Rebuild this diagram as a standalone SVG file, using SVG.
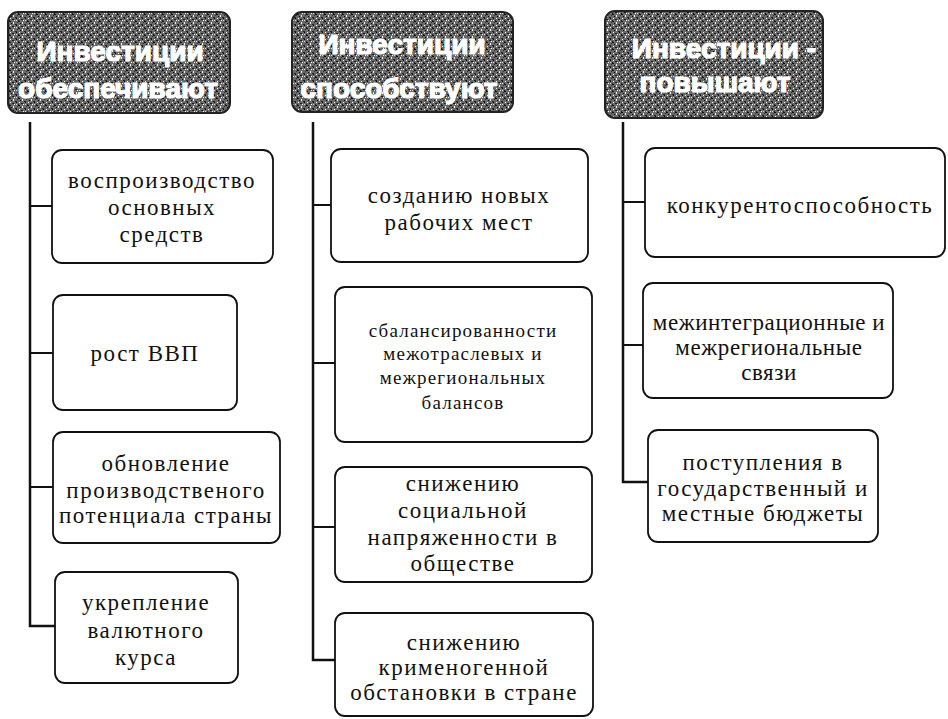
<svg xmlns="http://www.w3.org/2000/svg" width="948" height="719" viewBox="0 0 948 719">
<defs>
<pattern id="noise" width="9" height="7" patternUnits="userSpaceOnUse">
<rect width="9" height="7" fill="#6a6a6a"/>
<rect x="0" y="0" width="2" height="1" fill="#111"/>
<rect x="4" y="1" width="1" height="2" fill="#eee"/>
<rect x="6" y="3" width="2" height="1" fill="#222"/>
<rect x="1" y="4" width="1" height="1" fill="#fff"/>
<rect x="3" y="5" width="2" height="1" fill="#1a1a1a"/>
<rect x="7" y="6" width="1" height="1" fill="#ddd"/>
<rect x="8" y="1" width="1" height="1" fill="#333"/>
<rect x="2" y="2" width="1" height="1" fill="#000"/>
<rect x="5" y="6" width="1" height="1" fill="#f4f4f4"/>
<rect x="7" y="4" width="1" height="1" fill="#000"/>
<rect x="0" y="6" width="1" height="1" fill="#222"/>
</pattern>
<style>
.hdr rect{fill:url(#noise);stroke:#222;stroke-width:2}
.hdr text{font-family:"Liberation Sans","DejaVu Sans",sans-serif;font-weight:bold;font-size:28px;fill:#fff;text-anchor:middle;stroke:#fff;stroke-width:1.2}
.box rect{fill:#fff;stroke:#111;stroke-width:1.8}
.box text{font-family:"Liberation Serif","DejaVu Serif",serif;font-size:23px;fill:#111;text-anchor:middle;letter-spacing:1.5px}
.box text.sm{font-size:19px;letter-spacing:1.2px}
.box text.nr{letter-spacing:0.6px}
.conn path{fill:none;stroke:#111;stroke-width:2.5}
.conn path.stub{stroke-width:1.8}
</style>
</defs>

<g id="h1" class="hdr"><rect x="8" y="12" width="222" height="101" rx="10"/><text x="120" y="61">Инвестиции</text><text x="118" y="98">обеспечивают</text></g>
<g id="h2" class="hdr"><rect x="292" y="12" width="221" height="100" rx="10"/><text x="402" y="54">Инвестиции</text><text x="399" y="98">способствуют</text></g>
<g id="h3" class="hdr"><rect x="605" y="11" width="218" height="107" rx="10"/><text x="724" y="58">Инвестиции -</text><text x="715" y="92">повышают</text></g>

<g id="connectors" class="conn">
<path d="M30,122 V626 H55"/>
<path class="stub" d="M30,206 H52 M30,353 H53 M30,487 H53"/>
<path d="M313,122 V660 H335"/>
<path class="stub" d="M313,205 H331 M313,363 H335 M313,527 H335"/>
<path d="M623,122 V482 H648"/>
<path class="stub" d="M623,202 H645 M623,345 H643"/>
</g>

<g id="b1" class="box"><rect x="52" y="150" width="221" height="113" rx="10"/><text x="162" y="188">воспроизводство</text><text x="162" y="215">основных</text><text x="162" y="242">средств</text></g>
<g id="b2" class="box"><rect x="53" y="295" width="184" height="115" rx="10"/><text x="145" y="361">рост ВВП</text></g>
<g id="b3" class="box"><rect x="53" y="432" width="227" height="111" rx="10"/><text x="166" y="471">обновление</text><text x="166" y="498">производственого</text><text x="166" y="523">потенциала страны</text></g>
<g id="b4" class="box"><rect x="55" y="572" width="183" height="111" rx="10"/><text x="146" y="610">укрепление</text><text x="146" y="638">валютного</text><text x="146" y="665">курса</text></g>

<g id="m1" class="box"><rect x="331" y="149" width="257" height="113" rx="10"/><text x="459" y="203">созданию новых</text><text x="459" y="230">рабочих мест</text></g>
<g id="m2" class="box"><rect x="335" y="287" width="257" height="155" rx="10"/><text class="sm" x="463" y="337">сбалансированности</text><text class="sm" x="463" y="360">межотраслевых и</text><text class="sm" x="463" y="384">межрегиональных</text><text class="sm" x="463" y="409">балансов</text></g>
<g id="m3" class="box"><rect x="335" y="467" width="257" height="115" rx="10"/><text x="463" y="491">снижению</text><text x="463" y="518">социальной</text><text x="463" y="545">напряженности в</text><text x="463" y="571">обществе</text></g>
<g id="m4" class="box"><rect x="335" y="613" width="258" height="103" rx="10"/><text x="464" y="650">снижению</text><text x="464" y="675">крименогенной</text><text x="464" y="700">обстановки в стране</text></g>

<g id="r1" class="box"><rect x="645" y="148" width="300" height="109" rx="10"/><text x="800" y="213">конкурентоспособность</text></g>
<g id="r2" class="box"><rect x="643" y="283" width="250" height="115" rx="10"/><text class="nr" x="769" y="330">межинтеграционные и</text><text class="nr" x="769" y="355">межрегиональные</text><text class="nr" x="769" y="380">связи</text></g>
<g id="r3" class="box"><rect x="648" y="430" width="230" height="112" rx="10"/><text x="763" y="470">поступления в</text><text x="763" y="496">государственный и</text><text x="763" y="521">местные бюджеты</text></g>
</svg>
